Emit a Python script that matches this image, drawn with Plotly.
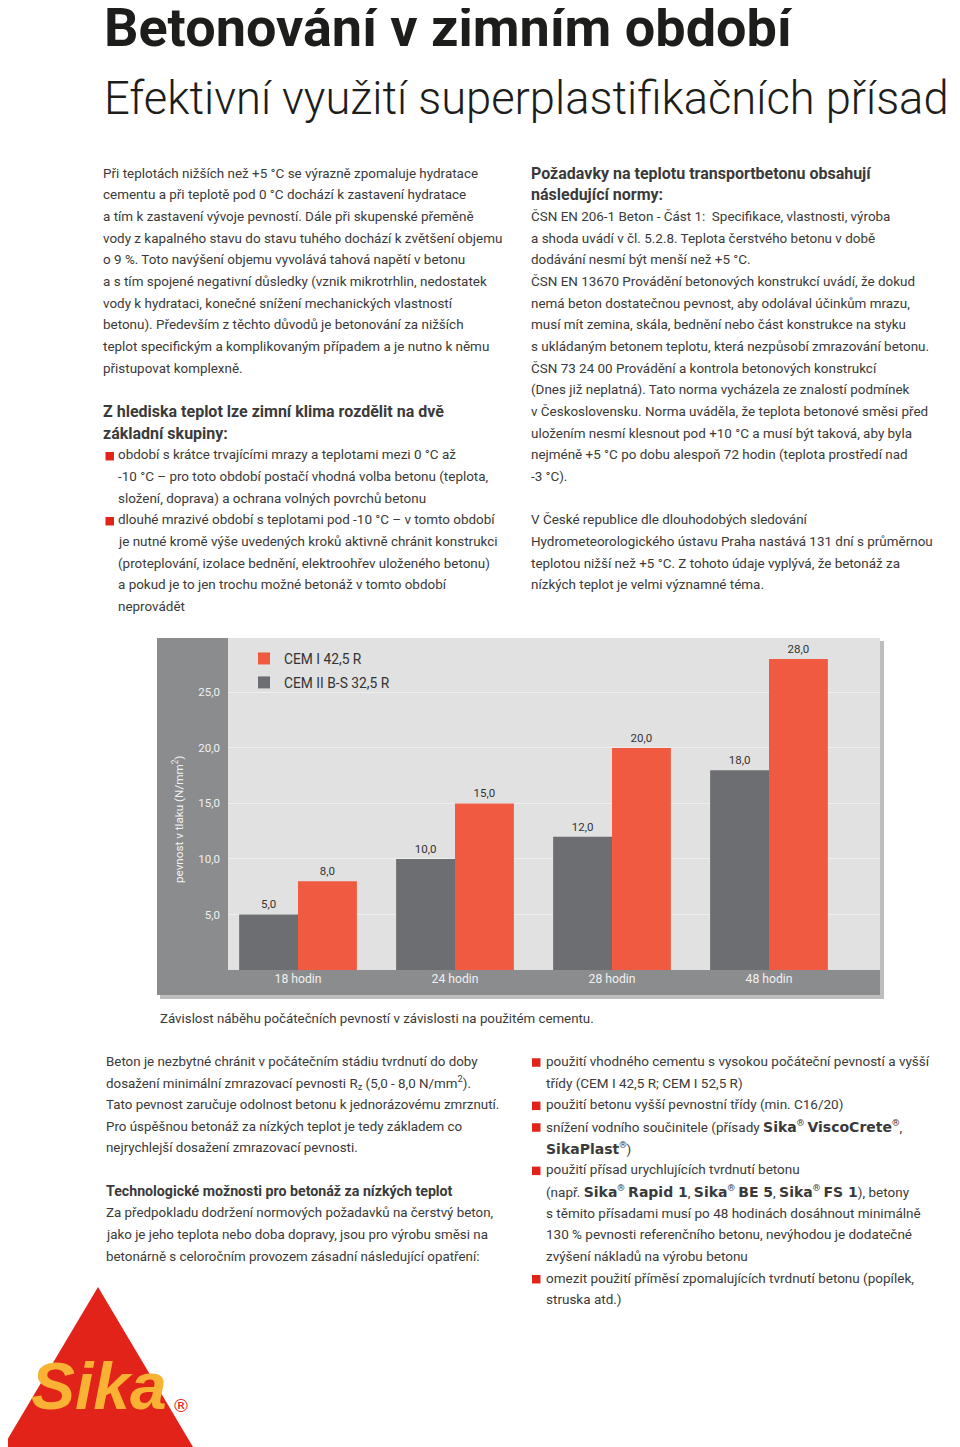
import plotly.graph_objects as go

# ---------------- data ----------------
categories = ["18 hodin", "24 hodin", "28 hodin", "48 hodin"]
cem_ii_values = [5.0, 10.0, 12.0, 18.0]
cem_i_values = [8.0, 15.0, 20.0, 28.0]
name_cem_ii = "CEM II B-S 32,5 R"
name_cem_i = "CEM I 42,5 R"
y_tick_values = [5, 10, 15, 20, 25]
y_tick_labels = ["5,0", "10,0", "15,0", "20,0", "25,0"]

# ---------------- page geometry helpers ----------------
OFF = 8            # default body margin of the html page
FW, FH = 952, 1439 # figure size so that it fits the 960x1447 window
FONT = "Roboto, 'Liberation Sans', sans-serif"
TEXT = "#3a3a3a"
RED = "#e2231a"
ORANGE = "#f05a40"
GRAY_BAR = "#6d6e71"
STRIP = "#8b8c8e"


def px(x):
    return (x - OFF) / FW


def py(y):
    return 1 - (y - OFF) / FH


def fmt(v):
    return f"{v:.1f}".replace(".", ",")


fig = go.Figure()
fig.add_trace(go.Bar(
    x=categories, y=cem_ii_values, name=name_cem_ii, legendgroup="g2", legendrank=2,
    marker=dict(color=GRAY_BAR, line=dict(width=0)),
    text=[fmt(v) for v in cem_ii_values], textposition="outside",
    textfont=dict(family=FONT, size=11.5, color="#333333"), cliponaxis=False,
))
fig.add_trace(go.Bar(
    x=categories, y=cem_i_values, name=name_cem_i, legendgroup="g1", legendrank=1,
    marker=dict(color=ORANGE, line=dict(width=0)),
    text=[fmt(v) for v in cem_i_values], textposition="outside",
    textfont=dict(family=FONT, size=11.5, color="#333333"), cliponaxis=False,
))

shapes = []
annotations = []

# chart frame: shadow, left strip, bottom strip, plot background
shapes.append(dict(type="rect", xref="paper", yref="paper", layer="below",
                   x0=px(160), x1=px(884), y0=py(999), y1=py(641),
                   fillcolor="#bdbdbd", line=dict(width=0)))
shapes.append(dict(type="rect", xref="paper", yref="paper", layer="below",
                   x0=px(157), x1=px(880), y0=py(995), y1=py(638),
                   fillcolor=STRIP, line=dict(width=0)))
shapes.append(dict(type="rect", xref="paper", yref="paper", layer="below",
                   x0=px(228), x1=px(880), y0=py(970), y1=py(638),
                   fillcolor="#e1e1e1", line=dict(width=0)))

annotations.append(dict(xref="paper", yref="paper", x=px(178), y=py(820),
                        text="pevnost v tlaku (N/mm<sup>2</sup>)", textangle=-90,
                        showarrow=False, xanchor="center", yanchor="middle",
                        font=dict(family=FONT, size=11.7, color="#f0f0f0")))
annotations.append(dict(xref="paper", yref="paper", x=px(158), y=py(1018),
                        text="Závislost náběhu počátečních pevností v závislosti na použitém cementu.",
                        showarrow=False, xanchor="left", yanchor="middle",
                        font=dict(family=FONT, size=13.3, color=TEXT)))

# ---------------- page text ----------------
annotations.append(dict(xref="paper", yref="paper", x=px(102), y=py(28),
                        text="<b>Betonování v zimním období</b>", showarrow=False,
                        xanchor="left", yanchor="middle",
                        font=dict(family=FONT, size=54, color="#1d1d1b")))
annotations.append(dict(xref="paper", yref="paper", x=px(102), y=py(98),
                        text="Efektivní využití superplastifikačních přísad", showarrow=False,
                        xanchor="left", yanchor="middle",
                        font=dict(family=FONT, size=45.3, weight=300, color="#1d1d1b")))

STEP = 21.67
SIKA = "<span style=\"font-family:'DejaVu Sans';font-weight:bold;font-size:14px\">"

left_top = [
    (0, 103, "Při teplotách nižších než +5 °C se výrazně zpomaluje hydratace"),
    (1, 103, "cementu a při teplotě pod 0 °C dochází k zastavení hydratace"),
    (2, 103, "a tím k zastavení vývoje pevností. Dále při skupenské přeměně"),
    (3, 103, "vody z kapalného stavu do stavu tuhého dochází k zvětšení objemu"),
    (4, 103, "o 9 %. Toto navýšení objemu vyvolává tahová napětí v betonu"),
    (5, 103, "a s tím spojené negativní důsledky (vznik mikrotrhlin, nedostatek"),
    (6, 103, "vody k hydrataci, konečné snížení mechanických vlastností"),
    (7, 103, "betonu). Především z těchto důvodů je betonování za nižších"),
    (8, 103, "teplot specifickým a komplikovaným případem a je nutno k němu"),
    (9, 103, "přistupovat komplexně."),
    (11, 103, "<b>Z hlediska teplot lze zimní klima rozdělit na dvě</b>"),
    (12, 103, "<b>základní skupiny:</b>"),
    (13, 118, "období s krátce trvajícími mrazy a teplotami mezi 0 °C až"),
    (14, 118, "-10 °C – pro toto období postačí vhodná volba betonu (teplota,"),
    (15, 118, "složení, doprava) a ochrana volných povrchů betonu"),
    (16, 118, "dlouhé mrazivé období s teplotami pod -10 °C – v tomto období"),
    (17, 118, "je nutné kromě výše uvedených kroků aktivně chránit konstrukci"),
    (18, 118, "(proteplování, izolace bednění, elektroohřev uloženého betonu)"),
    (19, 118, "a pokud je to jen trochu možné betonáž v tomto období"),
    (20, 118, "neprovádět"),
]
left_top_bullets = [13, 16]

right_top = [
    (0, 531, "<b>Požadavky na teplotu transportbetonu obsahují</b>"),
    (1, 531, "<b>následující normy:</b>"),
    (2, 531, "ČSN EN 206-1 Beton - Část 1:  Specifikace, vlastnosti, výroba"),
    (3, 531, "a shoda uvádí v čl. 5.2.8. Teplota čerstvého betonu v době"),
    (4, 531, "dodávání nesmí být menší než +5 °C."),
    (5, 531, "ČSN EN 13670 Provádění betonových konstrukcí uvádí, že dokud"),
    (6, 531, "nemá beton dostatečnou pevnost, aby odolával účinkům mrazu,"),
    (7, 531, "musí mít zemina, skála, bednění nebo část konstrukce na styku"),
    (8, 531, "s ukládaným betonem teplotu, která nezpůsobí zmrazování betonu."),
    (9, 531, "ČSN 73 24 00 Provádění a kontrola betonových konstrukcí"),
    (10, 531, "(Dnes již neplatná). Tato norma vycházela ze znalostí podmínek"),
    (11, 531, "v Československu. Norma uváděla, že teplota betonové směsi před"),
    (12, 531, "uložením nesmí klesnout pod +10 °C a musí být taková, aby byla"),
    (13, 531, "nejméně +5 °C po dobu alespoň 72 hodin (teplota prostředí nad"),
    (14, 531, "-3 °C)."),
    (16, 531, "V České republice dle dlouhodobých sledování"),
    (17, 531, "Hydrometeorologického ústavu Praha nastává 131 dní s průměrnou"),
    (18, 531, "teplotou nižší než +5 °C. Z tohoto údaje vyplývá, že betonáž za"),
    (19, 531, "nízkých teplot je velmi významné téma."),
]

left_bottom = [
    (0, 106, "Beton je nezbytné chránit v počátečním stádiu tvrdnutí do doby"),
    (1, 106, "dosažení minimální zmrazovací pevnosti R<sub>z</sub> (5,0 - 8,0 N/mm<sup>2</sup>)."),
    (2, 106, "Tato pevnost zaručuje odolnost betonu k jednorázovému zmrznutí."),
    (3, 106, "Pro úspěšnou betonáž za nízkých teplot je tedy základem co"),
    (4, 106, "nejrychlejší dosažení zmrazovací pevnosti."),
    (6, 106, "<b>Technologické možnosti pro betonáž za nízkých teplot</b>"),
    (7, 106, "Za předpokladu dodržení normových požadavků na čerstvý beton,"),
    (8, 106, "jako je jeho teplota nebo doba dopravy, jsou pro výrobu směsi na"),
    (9, 106, "betonárně s celoročním provozem zásadní následující opatření:"),
]

right_bottom = [
    (0, 546, "použití vhodného cementu s vysokou počáteční pevností a vyšší"),
    (1, 546, "třídy (CEM I 42,5 R; CEM I 52,5 R)"),
    (2, 546, "použití betonu vyšší pevnostní třídy (min. C16/20)"),
    (3, 546, "snížení vodního součinitele (přísady " + SIKA + "Sika</span><sup>®</sup> "
             + SIKA + "ViscoCrete</span><sup>®</sup>,"),
    (4, 546, SIKA + "SikaPlast</span><sup>®</sup>)"),
    (5, 546, "použití přísad urychlujících tvrdnutí betonu"),
    (6, 546, "(např. " + SIKA + "Sika</span><sup>®</sup> " + SIKA + "Rapid 1</span>, "
             + SIKA + "Sika</span><sup>®</sup> " + SIKA + "BE 5</span>, "
             + SIKA + "Sika</span><sup>®</sup> " + SIKA + "FS 1</span>), betony"),
    (7, 546, "s těmito přísadami musí po 48 hodinách dosáhnout minimálně"),
    (8, 546, "130 % pevnosti referenčního betonu, nevýhodou je dodatečné"),
    (9, 546, "zvýšení nákladů na výrobu betonu"),
    (10, 546, "omezit použití příměsí zpomalujících tvrdnutí betonu (popílek,"),
    (11, 546, "struska atd.)"),
]
right_bottom_bullets = [0, 2, 3, 5, 10]


def add_block(lines, y0, body, bold):
    for k, x, txt in lines:
        size = bold if txt.startswith("<b>") else body
        annotations.append(dict(xref="paper", yref="paper", x=px(x - 2), y=py(y0 + k * STEP),
                                text=txt, showarrow=False, xanchor="left", yanchor="middle",
                                font=dict(family=FONT, size=size, color=TEXT)))


def add_bullets(ks, x, y0):
    for k in ks:
        yc = y0 + k * STEP + 1.5
        shapes.append(dict(type="rect", xref="paper", yref="paper",
                           x0=px(x), x1=px(x + 8.5), y0=py(yc + 4.25), y1=py(yc - 4.25),
                           fillcolor=RED, line=dict(width=0)))


add_block(left_top, 173, 13.45, 16)
add_bullets(left_top_bullets, 105.5, 173)
add_block(right_top, 173, 13.45, 16)
add_block(left_bottom, 1061, 13.35, 14.2)
add_block(right_bottom, 1061, 13.5, 14.2)
add_bullets(right_bottom_bullets, 532, 1061)

# ---------------- Sika logo ----------------
tri = "M {} {} L {} {} L {} {} Z".format(px(3), py(1447), px(98), py(1287), px(193), py(1447))
shapes.append(dict(type="path", xref="paper", yref="paper", path=tri,
                   fillcolor=RED, line=dict(width=0)))
annotations.append(dict(xref="paper", yref="paper", x=px(99), y=py(1386),
                        text="<b><i>Sika</i></b>", showarrow=False,
                        xanchor="center", yanchor="middle",
                        font=dict(family="'Liberation Sans', Roboto, sans-serif", size=66, color="#f9b233")))
annotations.append(dict(xref="paper", yref="paper", x=px(181), y=py(1405),
                        text="®", showarrow=False, xanchor="center", yanchor="middle",
                        font=dict(family="'DejaVu Sans', sans-serif", size=18, color=RED)))

fig.update_layout(
    width=FW, height=FH,
    margin=dict(l=0, r=0, t=0, b=0),
    paper_bgcolor="white",
    plot_bgcolor="rgba(0,0,0,0)",
    barmode="group", bargap=0.25, bargroupgap=0,
    font=dict(family=FONT, color=TEXT),
    showlegend=True,
    legend=dict(x=px(244), y=py(643), xanchor="left", yanchor="top",
                traceorder="grouped", tracegroupgap=3,
                bgcolor="rgba(0,0,0,0)",
                font=dict(family=FONT, size=13.8, color="#333333"),
                itemclick=False, itemdoubleclick=False),
    xaxis=dict(domain=[px(228), px(880)], range=[-0.446, 3.707],
               showgrid=False, zeroline=False, showline=False, ticks="",
               tickfont=dict(family=FONT, size=12.2, color="#f0f0f0"), fixedrange=True),
    yaxis=dict(domain=[py(970), py(638)], range=[0, 29.9],
               tickvals=y_tick_values, ticktext=y_tick_labels,
               showgrid=True, gridcolor="rgba(255,255,255,0.45)", gridwidth=1,
               zeroline=False, showline=False, ticks="", ticklabelstandoff=7,
               tickfont=dict(family=FONT, size=11.5, color="#f0f0f0"), fixedrange=True),
    shapes=shapes,
    annotations=annotations,
)

fig.write_html("out.html")
